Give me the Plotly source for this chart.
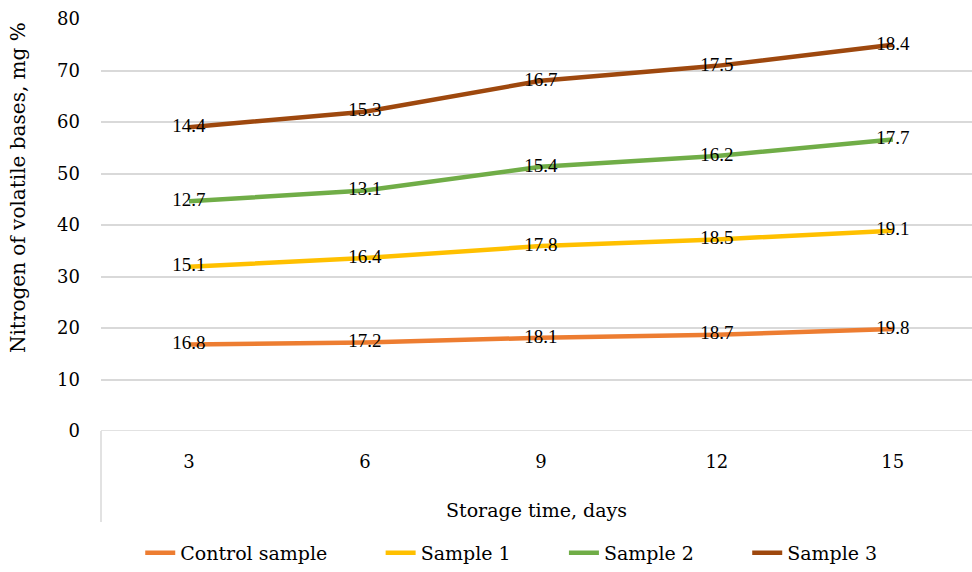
import numpy as np
import plotly.graph_objects as go

days = ["3", "6", "9", "12", "15"]
series_names = ["Control sample", "Sample 1", "Sample 2", "Sample 3"]
control = [16.8, 17.2, 18.1, 18.7, 19.8]
sample1 = [15.1, 16.4, 17.8, 18.5, 19.1]
sample2 = [12.7, 13.1, 15.4, 16.2, 17.7]
sample3 = [14.4, 15.3, 16.7, 17.5, 18.4]
colors = ["#ED7D31", "#FFC000", "#70AD47", "#9E480E"]

values = [control, sample1, sample2, sample3]
cumulative = np.cumsum(np.array(values), axis=0)

pad = "\u00a0" * 8
fig = go.Figure()
for i, (name, vals, cum, col) in enumerate(zip(series_names, values, cumulative, colors)):
    label = name + (pad if i < len(series_names) - 1 else "")
    fig.add_trace(go.Scatter(
        x=days, y=cum, name=label, mode="lines+text",
        line=dict(color=col, width=4.5),
        text=[f"{v:.1f}" for v in vals], textposition="middle center",
        textfont=dict(family="Liberation Serif", size=19, color="#000000"),
        cliponaxis=False,
    ))

fig.update_layout(
    width=972, height=572,
    margin=dict(l=101, r=0, t=19, b=141),
    paper_bgcolor="white", plot_bgcolor="white",
    font=dict(family="DejaVu Serif", size=19, color="#000000"),
    showlegend=True,
    legend=dict(orientation="h", x=0.471, xanchor="center", y=-0.296, yanchor="middle",
                font=dict(family="DejaVu Serif", size=19),
                traceorder="normal"),
    xaxis=dict(
        type="category", range=[-0.5, 4.45], showgrid=False, zeroline=False,
        showline=False, ticks="", ticklabelstandoff=18,
        tickfont=dict(family="DejaVu Serif", size=18),
        title=dict(text="Storage time, days", standoff=32,
                   font=dict(family="DejaVu Serif", size=19)),
    ),
    yaxis=dict(
        range=[0, 80], dtick=10, showgrid=True, gridcolor="#D9D9D9", gridwidth=1.5,
        zeroline=False, showline=False, ticks="", ticklabelstandoff=20,
        tickfont=dict(family="DejaVu Serif", size=18),
    ),
    annotations=[
        dict(text="Nitrogen of volatile bases, mg %", textangle=-90,
             xref="paper", yref="paper", x=-0.0953, y=0.592,
             xanchor="center", yanchor="middle", showarrow=False,
             font=dict(family="DejaVu Serif", size=20)),
    ],
    shapes=[
        dict(type="line", xref="paper", yref="paper", x0=0, x1=0, y0=0, y1=-0.221,
             line=dict(color="#D9D9D9", width=1.5)),
        dict(type="line", xref="paper", yref="y", x0=0, x1=1, y0=0, y1=0,
             line=dict(color="#D9D9D9", width=1.5), layer="below"),
    ],
)

fig.write_html("out.html")
